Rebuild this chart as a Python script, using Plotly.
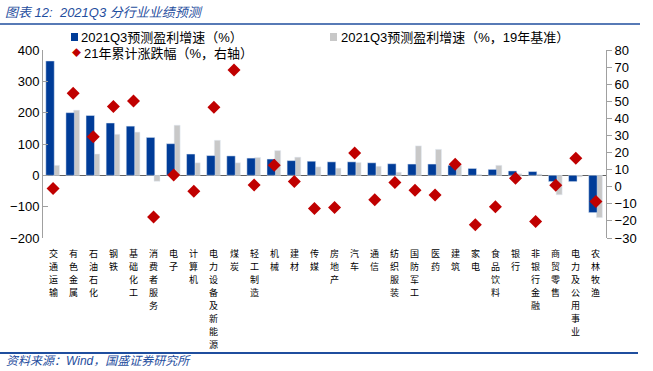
import plotly.graph_objects as go

categories = ["交通运输", "有色金属", "石油石化", "钢铁", "基础化工", "消费者服务", "电子", "计算机",
              "电力设备及新能源", "煤炭", "轻工制造", "机械", "建材", "传媒", "房地产", "汽车", "通信",
              "纺织服装", "国防军工", "医药", "建筑", "家电", "食品饮料", "银行", "非银行金融",
              "商贸零售", "电力及公用事业", "农林牧渔"]
growth_q3 = [365, 200, 191, 167, 157, 121, 101, 68, 63, 62, 55, 52, 47, 45, 43, 43, 40, 37, 36, 36,
             32, 22, 19, 14, 12, -20, -20, -119]
growth_q3_2019 = [32, 208, 68, 131, 138, -19, 160, 40, 112, 40, 57, 79, 58, 27, 23, 41, 29, 10, 94, 83,
                  32, 3, 32, 5, 4, -62, -5, -135]
ytd_change = [-1, 54.7, 29.2, 46.9, 50.2, -17.7, 6.8, -2.7, 46.5, 68.3, 1, 12.5, 3.1, -12.7, -12.1,
              19.7, -7.6, 2.5, -2, -4.9, 13.2, -22.2, -11.7, 5, -20.4, 0.8, 16.7, -8.6]

left_ticks = [-200, -100, 0, 100, 200, 300, 400]
right_ticks = [-30, -20, -10, 0, 10, 20, 30, 40, 50, 60, 70, 80]

W, H = 653, 371
L, R, T, B = 43, 606, 50, 238

def px(x):
    return (x - L) / (R - L)

def py(y):
    return (B - y) / (B - T)

BLUE = "#003C98"
GRAY = "#C8C8C8"
RED = "#C00000"
TXT_BLUE = "#1F4E9E"

fig = go.Figure()
fig.add_trace(go.Bar(x=categories, y=growth_q3_2019, marker_color=GRAY, width=0.3, offset=0.02,
                     name="2021Q3预测盈利增速（%，19年基准）"))
fig.add_trace(go.Bar(x=categories, y=growth_q3, marker_color=BLUE, width=0.42, offset=-0.36,
                     name="2021Q3预测盈利增速（%）"))
fig.add_trace(go.Scatter(x=categories, y=ytd_change, mode="markers", yaxis="y2",
                         marker=dict(symbol="diamond", size=10, color=RED, line=dict(width=0)),
                         name="21年累计涨跌幅（%，右轴）"))

fig.update_layout(
    width=W, height=H,
    margin=dict(l=L, r=W - R, t=T, b=H - B, autoexpand=False),
    paper_bgcolor="white", plot_bgcolor="white",
    barmode="overlay", showlegend=False,
    font=dict(family="Liberation Sans, Noto Sans CJK SC", size=13, color="black"),
    xaxis=dict(showticklabels=False, showgrid=False, showline=False, ticks="",
               range=[-0.5, len(categories) - 0.5]),
    yaxis=dict(range=[-200, 400], tickvals=left_ticks, showgrid=False, showline=True,
               linecolor="#A0A0A0", linewidth=1, ticks="inside", ticklen=5, tickcolor="#A0A0A0",
               zeroline=True, zerolinecolor="#606060", zerolinewidth=1,
               tickfont=dict(size=13)),
    yaxis2=dict(range=[-30, 80], tickvals=right_ticks, overlaying="y", side="right", showgrid=False,
                showline=True, linecolor="#A0A0A0", linewidth=1, ticks="outside", ticklen=5,
                tickcolor="#A0A0A0", zeroline=False, tickfont=dict(size=13)),
)

shapes = [
    dict(type="line", xref="paper", yref="paper", x0=px(0), x1=px(640), y0=py(24), y1=py(24),
         line=dict(color=TXT_BLUE, width=1.5)),
    dict(type="line", xref="paper", yref="paper", x0=px(0), x1=px(638), y0=py(353), y1=py(353),
         line=dict(color=TXT_BLUE, width=2)),
    dict(type="rect", xref="paper", yref="paper", x0=px(71), x1=px(78), y0=py(41), y1=py(33),
         fillcolor=BLUE, line=dict(width=0)),
    dict(type="rect", xref="paper", yref="paper", x0=px(330), x1=px(337), y0=py(41), y1=py(33),
         fillcolor=GRAY, line=dict(width=0)),
]
fig.update_layout(shapes=shapes)

ann = [
    dict(text="<i>图表 12:  2021Q3 分行业业绩预测</i>", x=px(3), y=py(12), xanchor="left",
         yanchor="middle", font=dict(size=13, color=TXT_BLUE)),
    dict(text="<i>资料来源：Wind，国盛证券研究所</i>", x=px(4), y=py(361), xanchor="left",
         yanchor="middle", font=dict(size=12, color=TXT_BLUE)),
    dict(text="2021Q3预测盈利增速（%）", x=px(79), y=py(37), xanchor="left", yanchor="middle",
         font=dict(size=13)),
    dict(text="2021Q3预测盈利增速（%，19年基准）", x=px(339), y=py(37), xanchor="left",
         yanchor="middle", font=dict(size=13)),
    dict(text="◆", x=px(76), y=py(53), xanchor="center", yanchor="middle",
         font=dict(size=9, color=RED)),
    dict(text="21年累计涨跌幅（%，右轴）", x=px(82), y=py(53), xanchor="left", yanchor="middle",
         font=dict(size=13)),
]
for a in ann:
    a.update(xref="paper", yref="paper", showarrow=False)

# vertical category labels: one character per line, stacked under each category
for cat in categories:
    for j, ch in enumerate(cat):
        ann.append(dict(text=ch, x=cat, xref="x", y=py(253 + 13.1 * j), yref="paper",
                        xanchor="center", yanchor="middle", showarrow=False,
                        font=dict(family="Noto Sans CJK SC", size=9, color="black")))

fig.update_layout(annotations=ann)

fig.write_html("out.html", config={"displayModeBar": False},
               post_script="document.body.style.margin='0';")
